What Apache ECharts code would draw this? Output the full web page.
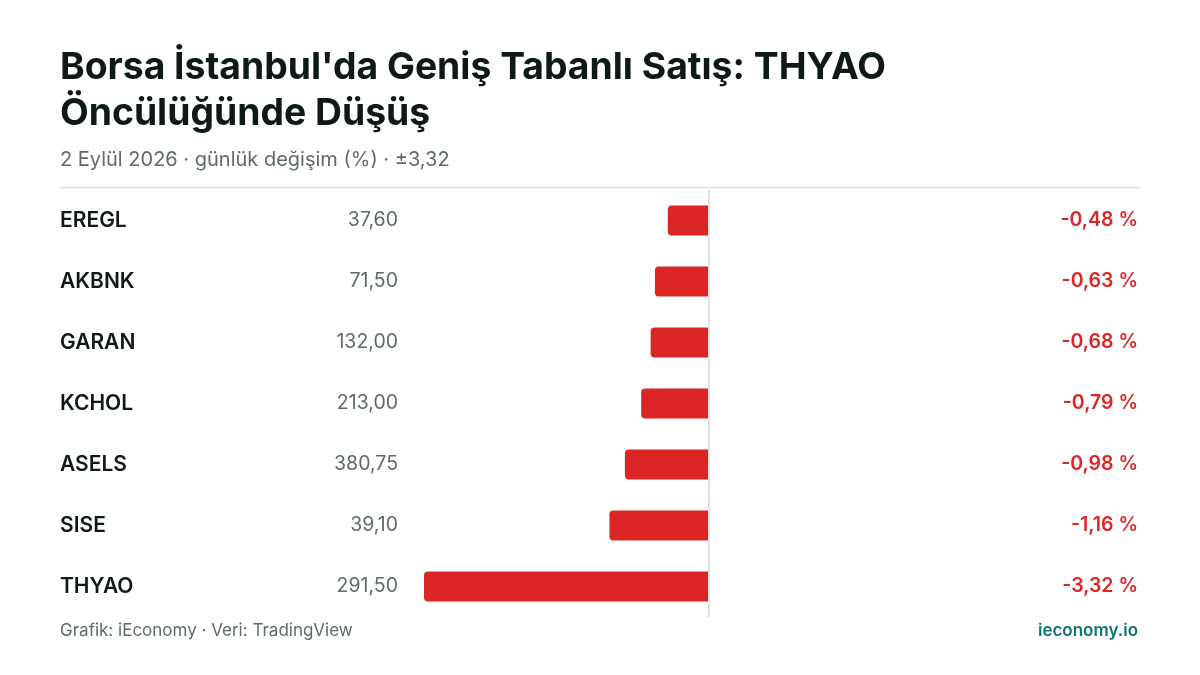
<!DOCTYPE html>
<html>
<head>
<meta charset="utf-8">
<script src="https://cdn.jsdelivr.net/npm/echarts@6/dist/echarts.min.js"></script>
<style>
html,body{margin:0;padding:0;background:#fff;}
#c{width:1200px;height:675px;}
</style>
</head>
<body>
<div id="c"></div>
<script>
const tickers = ['EREGL','AKBNK','GARAN','KCHOL','ASELS','SISE','THYAO'];
const prices = [37.60, 71.50, 132.00, 213.00, 380.75, 39.10, 291.50];
const changes = [-0.48, -0.63, -0.68, -0.79, -0.98, -1.16, -3.32];
const titleText = "Borsa İstanbul'da Geniş Tabanlı Satış: THYAO\nÖncülüğünde Düşüş";
const subtitleText = '2 Eylül 2026 · günlük değişim (%) · ±3,32';
const footLeft = 'Grafik: iEconomy · Veri: TradingView';
const footRight = 'ieconomy.io';

const FONT = 'Inter, "Noto Sans", sans-serif';
const fmt = (v) => v.toFixed(2).replace('.', ',');
const maxAbs = Math.max(...changes.map(Math.abs));

const chart = echarts.init(document.getElementById('c'), null, {renderer: 'canvas'});
chart.setOption({
  backgroundColor: '#ffffff',
  animation: false,
  textStyle: {fontFamily: FONT},
  title: [
    {text: titleText, left: 60, top: 45, padding: 0,
     textStyle: {fontFamily: FONT, fontSize: 37.3, fontWeight: 700, color: '#0f1a17', lineHeight: 46}},
    {text: subtitleText, left: 60, top: 150, padding: 0,
     textStyle: {fontFamily: FONT, fontSize: 20, fontWeight: 400, color: '#5f6b6a'}}
  ],
  graphic: [
    {type: 'line', shape: {x1: 60, y1: 187.5, x2: 1140, y2: 187.5},
     style: {stroke: '#dfe4e3', lineWidth: 1.5}},
    {type: 'text', left: 60, top: 622,
     style: {text: footLeft, fontFamily: FONT, fontSize: 17, fill: '#5f6b6a'}},
    {type: 'text', right: 62, top: 622,
     style: {text: footRight, fontFamily: FONT, fontSize: 17, fontWeight: 600, fill: '#0f766e'}}
  ],
  grid: {left: 424, right: 206, top: 190, bottom: 58, containLabel: false},
  xAxis: {type: 'value', min: -maxAbs, max: maxAbs, show: false},
  yAxis: [
    {type: 'category', data: tickers, inverse: true, position: 'left',
     axisLine: {show: false}, axisTick: {show: false}, splitLine: {show: false},
     axisLabel: {margin: 364, align: 'left', fontFamily: FONT, fontSize: 21, fontWeight: 600, color: '#0f1a17'}},
    {type: 'category', data: prices.map(fmt), inverse: true, position: 'left',
     axisLine: {show: false}, axisTick: {show: false}, splitLine: {show: false},
     axisLabel: {margin: 26, align: 'right', fontFamily: FONT, fontSize: 19.5, fontWeight: 400, color: '#5f6b6a'}},
    {type: 'category', data: changes.map(v => fmt(v) + ' %'), inverse: true, position: 'right',
     axisLine: {show: false}, axisTick: {show: false}, splitLine: {show: false},
     axisLabel: {margin: 144, align: 'right', fontFamily: FONT, fontSize: 19.5, fontWeight: 600, color: '#dc2626'}}
  ],
  series: [{
    type: 'bar', data: changes, yAxisIndex: 0, barWidth: 30,
    itemStyle: {color: '#dc2626', borderRadius: [4, 0, 0, 4]},
    markLine: {silent: true, symbol: 'none', label: {show: false},
      lineStyle: {color: '#dfe4e3', width: 2, type: 'solid'},
      data: [{xAxis: 0}]}
  }]
});
</script>
</body>
</html>
